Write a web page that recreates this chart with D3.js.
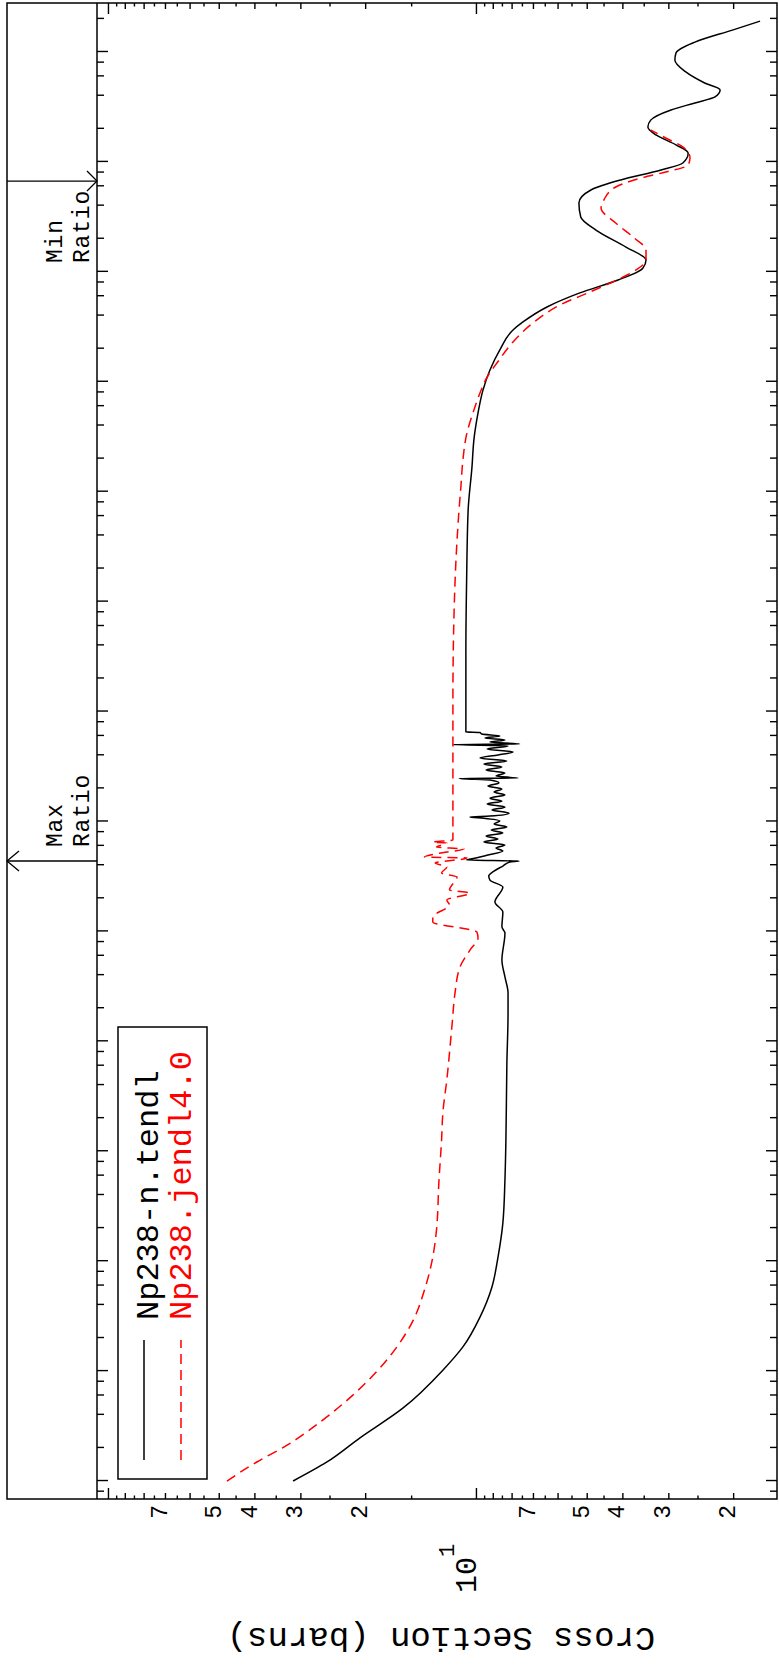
<!DOCTYPE html>
<meta charset="utf-8">
<script src="https://cdn.jsdelivr.net/npm/d3@7"></script>
<style>
  body { margin: 0; background: #fff; }
  svg text { font-family: "Liberation Mono", "Courier New", monospace; }
</style>
<body>
<script>

// the plot is laid out landscape (1665 x 779) and then turned a quarter turn
var W = 1665, H = 779

// Np238-n.tendl : [energy (eV), cross section (barns)]
var tendlLow = [
  [1.0e-5, 31.4], [1.49e-5, 25.4], [2.46e-5, 20.7], [4.6e-5, 15.8],
  [1.02e-4, 12.3], [1.66e-4, 10.85], [3.1e-4, 9.75], [5.8e-4, 9.05], [1.09e-3, 8.71],
  [2.22e-3, 8.45], [5.5e-3, 8.34], [0.0126, 8.29], [0.0634, 8.24], [0.181, 8.18],
  [0.275, 8.18], [0.385, 8.34], [0.548, 8.50], [0.966, 8.34], [1.10, 8.50],
  [1.50, 8.45], [1.85, 8.88], [2.53, 8.45], [2.93, 9.16]
]
var tendlRes = [
  [3.19, 9.23], [3.54, 8.93], [3.93, 8.45], [4.28, 8.08], [4.36, 7.64], [4.46, 10.6],
  [4.65, 10.0], [4.95, 9.28], [5.38, 8.45], [5.73, 8.82], [6.11, 8.34], [6.50, 9.52],
  [6.92, 8.71], [7.38, 9.39], [7.86, 8.45], [8.36, 9.09], [8.91, 8.24], [9.49, 8.93],
  [10.1, 8.61], [10.7, 9.52], [11.0, 10.38], [11.2, 9.16], [11.9, 8.13], [12.7, 9.05],
  [13.5, 8.34], [14.4, 9.33], [15.3, 8.50], [16.3, 9.16], [17.4, 8.34], [18.5, 8.93],
  [19.7, 8.50], [21.0, 9.28], [22.4, 8.66], [23.8, 9.16], [24.6, 11.1], [24.8, 7.68],
  [25.9, 8.82], [27.6, 8.34], [29.4, 9.39], [31.3, 8.50], [33.3, 9.52], [35.5, 8.24],
  [37.8, 9.75], [40.3, 8.71], [42.9, 7.93], [45.6, 9.33], [48.6, 8.18], [50.1, 11.55],
  [50.7, 7.60], [52.8, 9.16], [55.1, 8.34], [57.4, 9.45], [59.8, 8.61], [62.4, 9.64],
  [64.4, 9.75], [65.2, 10.65]
]
var tendlHigh = [
  [363, 10.65], [1570, 10.6], [6800, 10.5], [1.68e4, 10.25], [2.95e4, 10.13],
  [5.2e4, 9.87], [8.4e4, 9.57], [1.28e5, 9.16], [1.95e5, 8.61], [2.96e5, 7.93],
  [3.5e5, 7.45], [4.79e5, 6.41], [6.43e5, 5.22], [8.43e5, 4.11], [1.08e6, 3.52],
  [1.28e6, 3.45], [1.68e6, 3.91], [2.40e6, 4.72], [3.15e6, 5.19], [4.23e6, 5.25],
  [5.55e6, 4.87], [6.85e6, 4.04], [8.43e6, 3.14], [9.78e6, 2.74], [1.20e7, 2.65],
  [1.43e7, 2.86], [1.76e7, 3.24], [2.08e7, 3.41], [2.40e7, 3.35], [2.97e7, 2.95],
  [3.44e7, 2.54], [3.90e7, 2.24], [4.51e7, 2.17], [5.22e7, 2.39], [6.58e7, 2.69],
  [8.46e7, 2.88], [9.8e7, 2.86], [1.23e8, 2.54], [1.59e8, 2.00], [1.91e8, 1.69]
]

// Np238.jendl4.0
var jendlLow = [
  [1.0e-5, 47.5], [1.49e-5, 39.4], [2.12e-5, 32.6], [3.44e-5, 26.5], [6.05e-5, 21.6],
  [1.66e-4, 16.4], [2.91e-4, 14.8], [5.46e-4, 13.8], [9.6e-4, 13.2],
  [1.92e-3, 12.8], [5.5e-3, 12.6], [0.0126, 12.4], [0.0223, 12.3], [0.0445, 12.0],
  [0.147, 11.6], [0.275, 11.4], [0.474, 11.05], [0.676, 10.38], [0.871, 9.87]
]
var jendlRes = [
  [0.986, 9.94], [1.22, 13.1], [1.35, 13.1], [1.74, 11.8], [1.93, 12.0], [2.23, 10.38],
  [2.38, 11.8], [3.13, 11.26], [3.40, 12.4], [3.85, 12.0], [4.19, 12.9], [4.65, 10.58],
  [4.75, 13.8], [5.27, 12.0], [5.61, 10.78], [5.86, 12.8], [6.37, 12.0], [6.50, 13.1],
  [6.78, 11.55]
]
var jendlHigh = [
  [127, 11.55], [680, 11.48], [2390, 11.33], [7260, 11.1], [1.10e4, 10.99],
  [1.94e4, 10.85], [3.42e4, 10.58], [5.2e4, 10.19], [7.9e4, 9.75], [1.10e5, 9.33],
  [1.48e5, 8.77], [2.30e5, 7.93], [3.43e5, 7.00], [4.99e5, 5.91], [6.56e5, 4.90],
  [8.43e5, 4.14], [1.04e6, 3.67], [1.28e6, 3.45], [1.58e6, 3.45], [2.07e6, 3.74],
  [2.78e6, 4.17], [3.81e6, 4.57], [4.51e6, 4.49], [5.91e6, 4.17], [7.14e6, 3.56],
  [8.09e6, 3.05], [9.38e6, 2.65], [1.09e7, 2.62], [1.37e7, 2.74], [1.65e7, 3.05],
  [1.95e7, 3.35]
]

// energies where the ratio markers sit
var maxRatioE = 4.37
var minRatioE = 6.7e6

// axis ticks
var eDecades = [1e-6, 1e-5, 1e-4, 1e-3, 1e-2, 1e-1, 1, 10, 1e2, 1e3, 1e4, 1e5, 1e6, 1e7, 1e8]
var eMinorSteps = [2, 4, 6, 8]
var csMajor = [10, 100]
var csMid = [2, 3, 4, 5, 6, 7, 8, 9, 20, 30, 40, 50, 60, 70, 80, 90]
var csMinor = [2.5, 3.5, 4.5, 5.5, 6.5, 7.5, 8.5, 9.5, 15, 25, 35, 45, 55, 65, 75, 85, 95]
var csLabels = [2, 3, 4, 5, 7, 20, 30, 40, 50, 70]

var series = [
  { name: "Np238-n.tendl", data: tendlLow.concat(tendlRes, tendlHigh), color: "#000", dash: null, width: 1.5 },
  { name: "Np238.jendl4.0", data: jendlLow.concat(jendlRes, jendlHigh), color: "#f00", dash: "10,6", width: 1.5 }
]

var pLeft = 166, pRight = 1662, pTop = 97, pBottom = 777, strip = 7

var x = d3.scaleLog().domain([6.862e-6, 2.79e8]).range([pLeft, pRight])
var y = d3.scaleLog().domain([1.52, 107.1]).range([pBottom, pTop])

var svg = d3.select("body").append("svg")
            .attr("width", H).attr("height", W)
            .style("display", "block")
svg.append("rect").attr("width", H).attr("height", W).attr("fill", "#fff")

var g = svg.append("g").attr("transform", "translate(0," + W + ") rotate(-90)")

// energy axis ticks (no labels, they fall outside the picture)
var eMinor = []
eDecades.forEach(function(d) { eMinorSteps.forEach(function(m) { eMinor.push(d * m) }) })
var eDom = x.domain()
var inE = function(v) { return v >= eDom[0] && v <= eDom[1] }

function ticks(axis, pos) {
  var a = g.append("g").attr("transform", pos).call(axis)
  a.select(".domain").remove()
  a.attr("font-size", null).attr("font-family", null)
  a.selectAll("line").attr("stroke", "#000").attr("stroke-width", 1.4)
  return a
}

ticks(d3.axisBottom(x).tickValues(eDecades.filter(inE)).tickSize(-11).tickFormat(""), "translate(0," + pBottom + ")")
ticks(d3.axisBottom(x).tickValues(eMinor.filter(inE)).tickSize(-7).tickFormat(""), "translate(0," + pBottom + ")")
ticks(d3.axisTop(x).tickValues(eDecades.filter(inE)).tickSize(-11).tickFormat(""), "translate(0," + pTop + ")")
ticks(d3.axisTop(x).tickValues(eMinor.filter(inE)).tickSize(-7).tickFormat(""), "translate(0," + pTop + ")")

// cross section axis
var csFmt = function(d) { return csLabels.indexOf(d) >= 0 ? String(d).charAt(0) : "" }
var lab = ticks(d3.axisLeft(y).tickValues(csMid).tickSize(-6).tickPadding(6).tickFormat(csFmt), "translate(" + pLeft + ",0)")
lab.selectAll("text").attr("dy", "0.07em").style("font-size", "23px").attr("fill", "#000")
ticks(d3.axisLeft(y).tickValues(csMajor).tickSize(-11).tickFormat(""), "translate(" + pLeft + ",0)")
ticks(d3.axisLeft(y).tickValues(csMinor).tickSize(-3.5).tickFormat(""), "translate(" + pLeft + ",0)")
ticks(d3.axisRight(y).tickValues(csMid).tickSize(-6).tickFormat(""), "translate(" + pRight + ",0)")
ticks(d3.axisRight(y).tickValues(csMajor).tickSize(-11).tickFormat(""), "translate(" + pRight + ",0)")
ticks(d3.axisRight(y).tickValues(csMinor).tickSize(-3.5).tickFormat(""), "translate(" + pRight + ",0)")

var dec = g.append("text").attr("x", pLeft - 94).attr("y", y(10)).style("font-size", "30px").text("10")
dec.append("tspan").attr("dy", -22).style("font-size", "22px").text("1")

g.append("text")
 .attr("transform", "translate(37," + ((pTop + pBottom) / 2 + 4) + ") rotate(-90)")
 .attr("text-anchor", "middle")
 .style("font-size", "34px")
 .text("Cross Section (barns)")

// frame
g.append("rect").attr("x", pLeft).attr("y", strip).attr("width", pRight - pLeft).attr("height", pBottom - strip)
 .attr("fill", "none").attr("stroke", "#000").attr("stroke-width", 1.5)
g.append("line").attr("x1", pLeft).attr("x2", pRight).attr("y1", pTop).attr("y2", pTop)
 .attr("stroke", "#000").attr("stroke-width", 1.5)

// curves
var line = d3.line().x(function(d) { return x(d[0]) }).y(function(d) { return y(d[1]) }).curve(d3.curveMonotoneX)
series.forEach(function(s) {
  g.append("path").attr("d", line(s.data)).attr("fill", "none")
   .attr("stroke", s.color).attr("stroke-width", s.width)
   .attr("stroke-dasharray", s.dash)
})

// ratio markers
function marker(e, label, pointDown) {
  var mx = x(e)
  var tip = pointDown ? pTop : strip, back = pointDown ? pTop - 10 : strip + 12
  var gm = g.append("g").attr("stroke", "#000").attr("stroke-width", 1.3).attr("fill", "none")
  gm.append("line").attr("x1", mx).attr("x2", mx).attr("y1", strip).attr("y2", pTop)
  gm.append("path").attr("d", d3.line()([[mx - 10, back], [mx, tip], [mx + 10, back]]))
  var tx = pointDown ? mx - 82 : mx + 14
  label.forEach(function(t, i) {
    g.append("text").attr("x", tx).attr("y", 62 + i * 27)
     .style("font-size", "23px").style("letter-spacing", "0.8px").text(t)
  })
}
marker(minRatioE, ["Min", "Ratio"], true)
marker(maxRatioE, ["Max", "Ratio"], false)

// legend
var lg = g.append("g")
lg.append("rect").attr("x", 186).attr("y", 118).attr("width", 452).attr("height", 89)
  .attr("fill", "#fff").attr("stroke", "#000").attr("stroke-width", 1.5)
series.forEach(function(s, i) {
  var ly = [144, 181][i]
  lg.append("line").attr("x1", 205).attr("x2", 325).attr("y1", ly).attr("y2", ly)
    .attr("stroke", s.color).attr("stroke-width", s.width).attr("stroke-dasharray", s.dash)
  lg.append("text").attr("x", 345).attr("y", [158, 191][i]).attr("fill", s.color)
    .style("font-size", "32px").text(s.name)
})

</script>
</body>
